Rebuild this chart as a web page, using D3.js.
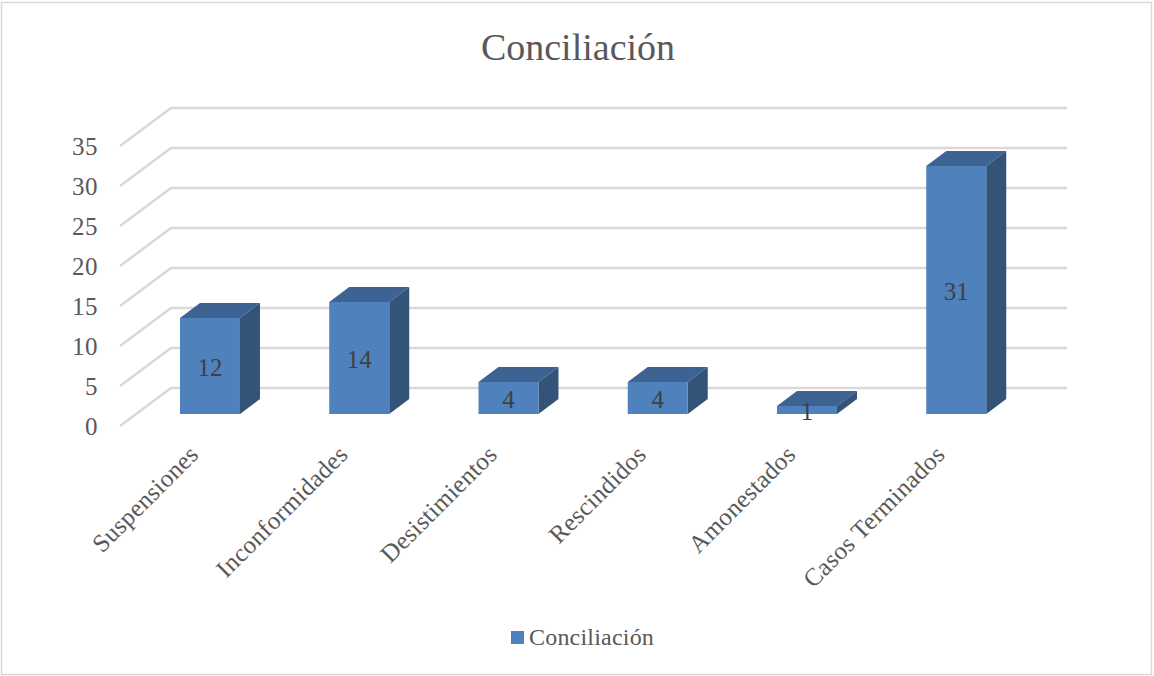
<!DOCTYPE html>
<html>
<head>
<meta charset="utf-8">
<script src="https://cdn.jsdelivr.net/npm/d3@7"></script>
<style>
  html, body { margin: 0; padding: 0; background: #fff; }
  svg { display: block; }
  text { font-family: "Liberation Serif", serif; }
</style>
</head>
<body>
<div id="chart"></div>
<script>
// data
var seriesName = "Conciliación";
var categories = ["Suspensiones", "Inconformidades", "Desistimientos", "Rescindidos", "Amonestados", "Casos Terminados"];
var values = [12, 14, 4, 4, 1, 31];
var yTicks = [0, 5, 10, 15, 20, 25, 30, 35];

var width = 1154, height = 676;

// 3d look: floor goes back 51px right and 38px up for the walls, bars sit in the middle
var wallDx = 51, wallDy = 38, barDx = 20, barDy = 15, barFloor = 12;

var y = d3.scaleLinear().domain([0, 35]).range([426, 146]);
var x = d3.scaleBand().domain(categories).range([135.2, 1031]).paddingInner(0.598).paddingOuter(0.3);

var svg = d3.select("#chart").append("svg").attr("width", width).attr("height", height);

svg.append("rect")
  .attr("x", 1.5).attr("y", 2.5)
  .attr("width", 1150).attr("height", 672)
  .attr("fill", "#fff").attr("stroke", "#d9d9d9").attr("stroke-width", 1.5);

svg.append("text")
  .attr("x", 578).attr("y", 60)
  .attr("text-anchor", "middle")
  .attr("font-size", 38)
  .attr("fill", "#595959")
  .text(seriesName);

// gridlines, side wall + back wall
var grid = svg.append("g").attr("fill", "none").attr("stroke", "#d9d9d9").attr("stroke-width", 2.5);
grid.selectAll("path").data(yTicks).join("path")
  .attr("d", function(d) {
    var p = d3.path();
    p.moveTo(120, y(d));
    p.lineTo(120 + wallDx, y(d) - wallDy);
    p.lineTo(1067, y(d) - wallDy);
    return p.toString();
  });

// y tick labels
svg.append("g").selectAll("text").data(yTicks).join("text")
  .attr("x", 98).attr("y", function(d) { return y(d) + 8; })
  .attr("dy", 1)
  .attr("text-anchor", "end")
  .attr("font-size", 25)
  .attr("letter-spacing", 0.5)
  .attr("fill", "#595959")
  .text(function(d) { return d; });

// bars
var bars = svg.append("g").selectAll("g").data(values).join("g");

function barTop(d) { return y(d) - barFloor; }
function barLeft(d, i) { return x(categories[i]); }

// top face
bars.append("path")
  .attr("fill", "#3c6391")
  .attr("d", function(d, i) {
    var l = barLeft(d, i), t = barTop(d), w = x.bandwidth();
    return "M" + l + "," + t + "L" + (l + barDx) + "," + (t - barDy) + "L" + (l + w + barDx) + "," + (t - barDy) + "L" + (l + w) + "," + t + "Z";
  });
// side face
bars.append("path")
  .attr("fill", "#335379")
  .attr("d", function(d, i) {
    var l = barLeft(d, i) + x.bandwidth(), t = barTop(d), b = y(0) - barFloor;
    return "M" + l + "," + t + "L" + (l + barDx) + "," + (t - barDy) + "L" + (l + barDx) + "," + (b - barDy) + "L" + l + "," + b + "Z";
  });
// front face
bars.append("rect")
  .attr("x", barLeft)
  .attr("y", barTop)
  .attr("width", x.bandwidth())
  .attr("height", function(d) { return y(0) - y(d); })
  .attr("fill", "#4f81bd");

// value labels
bars.append("text")
  .attr("x", function(d, i) { return barLeft(d, i) + x.bandwidth() / 2; })
  .attr("y", function(d) { return (barTop(d) + y(0) - barFloor) / 2 + 9; })
  .attr("dy", 1)
  .attr("text-anchor", "middle")
  .attr("font-size", 25)
  .attr("fill", "#404040")
  .text(function(d) { return d; });

// category labels
svg.append("g").selectAll("text").data(categories).join("text")
  .attr("transform", function(d) {
    return "translate(" + (x(d) + x.bandwidth() / 2 - 10) + ",456) rotate(-45)";
  })
  .attr("text-anchor", "end")
  .attr("font-size", 25)
  .attr("letter-spacing", 0.3)
  .attr("fill", "#595959")
  .text(function(d) { return d; });

// legend
svg.append("rect")
  .attr("x", 511).attr("y", 631)
  .attr("width", 13).attr("height", 13)
  .attr("fill", "#4f81bd");
svg.append("text")
  .attr("x", 529).attr("y", 645)
  .attr("font-size", 24)
  .attr("letter-spacing", 0.2)
  .attr("fill", "#595959")
  .text(seriesName);
</script>
</body>
</html>
